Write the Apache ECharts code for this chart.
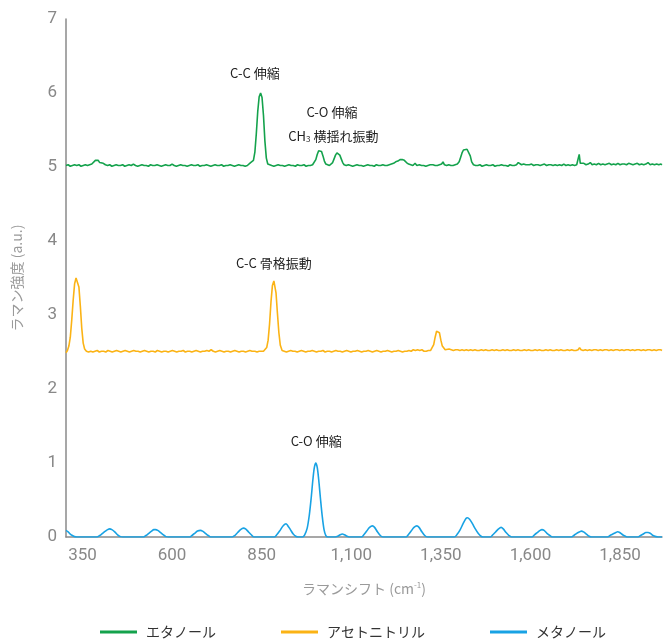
<!DOCTYPE html>
<html>
<head>
<meta charset="utf-8">
<script src="https://cdn.jsdelivr.net/npm/echarts@6/dist/echarts.min.js"></script>
<style>
  html, body { margin: 0; padding: 0; background: #fff; }
  #chart { width: 663px; height: 642px; }
</style>
</head>
<body>
<div id="chart"></div>
<script>
// Raman shift tick labels (cm-1) and intensity ticks
const shiftTicks = [350, 600, 850, 1100, 1350, 1600, 1850];
const intensityTicks = [0, 1, 2, 3, 4, 5, 6, 7];

const seriesNames = ['エタノール', 'アセトニトリル', 'メタノール'];

// Ethanol spectrum, offset to a baseline of 5 [shift, intensity]
const ethanol = [
  [304,5.02],[310,5.03],[316,5.01],[322,5.02],[328,5.03],[334,5.02],[340,5.03],[346,5.01],[352,5.02],[358,5.03],
  [364,5.02],[370,5.03],[376,5.04],[381,5.06],[386,5.09],[390,5.10],[394,5.09],[398,5.06],[403,5.04],[408,5.05],
  [414,5.03],[420,5.02],[426,5.03],[432,5.01],[438,5.02],[444,5.03],[450,5.02],[456,5.02],[462,5.03],[468,5.01],
  [474,5.02],[480,5.03],[486,5.02],[492,5.04],[498,5.02],[504,5.01],[510,5.02],[516,5.03],[522,5.02],[528,5.02],
  [534,5.01],[540,5.03],[546,5.02],[552,5.02],[558,5.03],[564,5.02],[570,5.01],[576,5.02],[582,5.03],[588,5.02],
  [594,5.02],[600,5.04],[606,5.02],[612,5.01],[618,5.02],[624,5.03],[630,5.02],[636,5.02],[642,5.01],[648,5.02],
  [654,5.03],[660,5.02],[666,5.02],[672,5.03],[678,5.01],[684,5.02],[690,5.02],[696,5.03],[702,5.02],[708,5.01],
  [714,5.02],[720,5.03],[726,5.02],[732,5.02],[738,5.03],[744,5.01],[750,5.02],[756,5.02],[762,5.03],[768,5.02],
  [774,5.01],[780,5.02],[786,5.03],[792,5.02],[798,5.02],[804,5.01],[810,5.02],[815,5.03],[819,5.06],[823,5.05],
  [827,5.09],[831,5.20],[835,5.45],[839,5.75],[843,5.95],[847,6.00],[851,5.94],[855,5.70],[859,5.35],[863,5.12],
  [867,5.04],[872,5.02],[878,5.02],[884,5.01],[890,5.02],[896,5.03],[902,5.02],[908,5.02],[914,5.01],[920,5.02],
  [926,5.03],[932,5.02],[938,5.02],[944,5.01],[950,5.03],[956,5.02],[962,5.02],[968,5.03],[974,5.01],[980,5.02],
  [986,5.02],[992,5.03],[997,5.05],[1001,5.10],[1005,5.17],[1009,5.22],[1013,5.23],[1017,5.21],[1021,5.15],[1025,5.08],
  [1029,5.04],[1034,5.03],[1039,5.02],[1044,5.03],[1048,5.06],[1052,5.11],[1056,5.16],[1060,5.19],[1064,5.19],[1068,5.16],
  [1072,5.11],[1076,5.06],[1080,5.03],[1086,5.02],[1092,5.03],[1098,5.02],[1104,5.01],[1110,5.02],[1116,5.03],[1122,5.02],
  [1128,5.02],[1134,5.01],[1140,5.02],[1146,5.03],[1152,5.02],[1158,5.02],[1164,5.01],[1170,5.03],[1176,5.02],[1182,5.02],
  [1188,5.03],[1194,5.02],[1200,5.02],[1206,5.03],[1212,5.04],[1218,5.05],[1224,5.07],[1230,5.08],[1236,5.10],[1242,5.10],
  [1248,5.09],[1254,5.06],[1260,5.04],[1266,5.03],[1272,5.02],[1278,5.05],[1283,5.02],[1290,5.03],[1296,5.02],[1302,5.02],
  [1308,5.01],[1314,5.02],[1320,5.03],[1324,5.05],[1328,5.03],[1334,5.02],[1340,5.02],[1346,5.03],[1352,5.04],[1356,5.07],
  [1360,5.03],[1366,5.02],[1372,5.03],[1378,5.02],[1384,5.02],[1390,5.03],[1396,5.04],[1401,5.07],[1405,5.13],[1409,5.19],
  [1413,5.23],[1418,5.24],[1423,5.24],[1428,5.23],[1432,5.15],[1436,5.07],[1441,5.03],[1447,5.02],[1453,5.02],[1459,5.03],
  [1465,5.01],[1471,5.02],[1477,5.03],[1483,5.02],[1489,5.02],[1495,5.03],[1501,5.01],[1507,5.02],[1513,5.02],[1519,5.03],
  [1525,5.02],[1531,5.02],[1537,5.01],[1543,5.03],[1549,5.02],[1555,5.02],[1561,5.03],[1566,5.06],[1570,5.05],[1575,5.03],
  [1581,5.04],[1587,5.03],[1592,5.05],[1597,5.03],[1603,5.04],[1609,5.02],[1615,5.03],[1621,5.03],[1627,5.02],[1633,5.03],
  [1639,5.04],[1645,5.02],[1651,5.03],[1657,5.03],[1663,5.02],[1669,5.03],[1675,5.02],[1681,5.03],[1687,5.02],[1693,5.04],
  [1699,5.02],[1705,5.03],[1711,5.02],[1717,5.03],[1723,5.02],[1729,5.03],[1733,5.03],[1736,5.17],[1739,5.05],[1743,5.04],
  [1749,5.05],[1755,5.03],[1761,5.04],[1767,5.06],[1772,5.03],[1778,5.04],[1784,5.03],[1790,5.05],[1796,5.03],[1802,5.04],
  [1808,5.03],[1814,5.04],[1820,5.05],[1826,5.03],[1832,5.04],[1838,5.03],[1844,5.05],[1850,5.03],[1856,5.04],[1862,5.04],
  [1868,5.03],[1874,5.05],[1880,5.04],[1886,5.03],[1892,5.04],[1898,5.05],[1904,5.03],[1910,5.04],[1916,5.03],[1922,5.04],
  [1928,5.06],[1934,5.03],[1940,5.04],[1946,5.03],[1952,5.04],[1958,5.03],[1964,5.04],[1967,5.03]
];

// Acetonitrile spectrum, offset to a baseline of 2.5
const acetonitrile = [
  [304,2.49],[308,2.52],[312,2.58],[316,2.70],[320,2.93],[324,3.20],[328,3.42],[332,3.50],[336,3.49],[340,3.38],
  [344,3.12],[348,2.82],[352,2.62],[356,2.54],[361,2.51],[367,2.50],[373,2.51],[379,2.50],[385,2.51],[391,2.52],
  [397,2.50],[403,2.51],[409,2.51],[415,2.50],[421,2.52],[427,2.51],[433,2.50],[439,2.51],[445,2.52],[451,2.51],
  [457,2.50],[463,2.51],[469,2.52],[475,2.51],[481,2.50],[487,2.51],[493,2.52],[499,2.51],[505,2.51],[511,2.50],
  [517,2.51],[523,2.52],[529,2.51],[535,2.50],[541,2.51],[547,2.51],[553,2.50],[559,2.52],[565,2.51],[571,2.50],
  [577,2.51],[583,2.51],[589,2.50],[595,2.51],[601,2.52],[607,2.51],[613,2.50],[619,2.51],[625,2.51],[631,2.52],
  [637,2.50],[643,2.51],[649,2.51],[655,2.50],[661,2.51],[667,2.52],[673,2.51],[679,2.50],[685,2.51],[691,2.51],
  [697,2.52],[703,2.51],[709,2.53],[715,2.51],[721,2.50],[727,2.51],[733,2.52],[739,2.51],[745,2.50],[751,2.51],
  [757,2.51],[763,2.50],[769,2.51],[775,2.52],[781,2.51],[787,2.50],[793,2.51],[799,2.51],[805,2.50],[811,2.51],
  [817,2.52],[823,2.51],[827,2.53],[831,2.51],[837,2.50],[843,2.51],[849,2.51],[855,2.51],[860,2.52],[864,2.56],
  [868,2.66],[872,2.88],[876,3.18],[880,3.40],[884,3.46],[887,3.44],[890,3.30],[894,3.02],[898,2.76],[902,2.59],
  [907,2.52],[913,2.51],[919,2.50],[925,2.51],[931,2.52],[937,2.51],[943,2.51],[949,2.50],[955,2.51],[961,2.52],
  [967,2.51],[973,2.50],[979,2.51],[985,2.51],[991,2.52],[997,2.51],[1003,2.50],[1009,2.51],[1015,2.51],[1021,2.52],
  [1027,2.50],[1033,2.51],[1039,2.51],[1045,2.50],[1051,2.51],[1057,2.52],[1063,2.51],[1069,2.51],[1075,2.50],[1081,2.51],
  [1087,2.52],[1093,2.51],[1099,2.50],[1105,2.51],[1111,2.51],[1117,2.52],[1123,2.51],[1129,2.50],[1135,2.51],[1141,2.51],
  [1147,2.52],[1153,2.51],[1159,2.50],[1165,2.51],[1171,2.52],[1177,2.51],[1183,2.50],[1189,2.51],[1195,2.51],[1201,2.52],
  [1207,2.51],[1213,2.50],[1219,2.51],[1225,2.51],[1231,2.52],[1237,2.51],[1243,2.50],[1249,2.51],[1255,2.51],[1261,2.52],
  [1267,2.51],[1273,2.53],[1279,2.52],[1285,2.53],[1291,2.52],[1297,2.53],[1303,2.51],[1309,2.51],[1315,2.52],[1321,2.52],
  [1326,2.54],[1330,2.60],[1334,2.70],[1338,2.78],[1342,2.80],[1346,2.76],[1350,2.66],[1354,2.58],[1358,2.56],[1362,2.53],
  [1367,2.52],[1373,2.54],[1379,2.53],[1385,2.52],[1391,2.53],[1397,2.53],[1403,2.52],[1409,2.53],[1415,2.52],[1421,2.53],
  [1427,2.52],[1433,2.53],[1439,2.52],[1445,2.53],[1451,2.52],[1457,2.52],[1463,2.53],[1469,2.52],[1475,2.53],[1481,2.52],
  [1487,2.52],[1493,2.53],[1499,2.52],[1505,2.53],[1511,2.52],[1517,2.52],[1523,2.53],[1529,2.52],[1535,2.53],[1541,2.52],
  [1547,2.52],[1553,2.53],[1559,2.52],[1565,2.53],[1571,2.52],[1577,2.52],[1583,2.53],[1589,2.52],[1595,2.53],[1601,2.52],
  [1607,2.52],[1613,2.53],[1619,2.52],[1625,2.53],[1631,2.52],[1637,2.52],[1643,2.53],[1649,2.52],[1655,2.53],[1661,2.52],
  [1667,2.52],[1673,2.53],[1679,2.52],[1685,2.53],[1691,2.52],[1697,2.52],[1703,2.53],[1709,2.52],[1715,2.53],[1721,2.52],
  [1727,2.52],[1733,2.53],[1737,2.56],[1741,2.53],[1747,2.52],[1753,2.53],[1759,2.52],[1765,2.53],[1771,2.52],[1777,2.53],
  [1783,2.53],[1789,2.52],[1795,2.53],[1801,2.52],[1807,2.53],[1813,2.53],[1819,2.52],[1825,2.53],[1831,2.52],[1837,2.53],
  [1843,2.53],[1849,2.52],[1855,2.53],[1861,2.52],[1867,2.53],[1873,2.53],[1879,2.52],[1885,2.53],[1891,2.52],[1897,2.53],
  [1903,2.53],[1909,2.52],[1915,2.53],[1921,2.52],[1927,2.53],[1933,2.53],[1939,2.52],[1945,2.53],[1951,2.52],[1957,2.53],
  [1963,2.53],[1967,2.52]
];

// Methanol spectrum, baseline 0
const methanol = [
  [304,0.09],[310,0.07],[316,0.04],[322,0.02],[328,0.005],[334,0],[390,0],[398,0.02],[406,0.05],[414,0.08],
  [420,0.10],[426,0.11],[432,0.10],[440,0.07],[448,0.03],[456,0.005],[462,0],[520,0],[527,0.02],[535,0.05],
  [543,0.08],[549,0.10],[554,0.10],[560,0.09],[568,0.06],[576,0.03],[583,0.005],[590,0],[650,0],[655,0.02],
  [663,0.05],[671,0.08],[679,0.09],[685,0.08],[693,0.05],[701,0.02],[708,0],[768,0],[775,0.02],[783,0.06],
  [791,0.10],[799,0.12],[805,0.11],[813,0.07],[821,0.03],[828,0],[885,0],[892,0.03],[900,0.08],[908,0.14],
  [914,0.17],[918,0.18],[922,0.16],[930,0.10],[938,0.04],[945,0.01],[952,0],[964,0],[970,0.03],[977,0.12],
  [983,0.30],[988,0.52],[993,0.78],[997,0.94],[1001,1.00],[1005,0.94],[1009,0.78],[1014,0.52],[1019,0.28],[1024,0.10],
  [1029,0.02],[1035,0],[1055,0],[1062,0.01],[1069,0.03],[1075,0.04],[1081,0.03],[1088,0.01],[1094,0],[1128,0],
  [1135,0.03],[1143,0.08],[1151,0.13],[1159,0.15],[1165,0.13],[1173,0.07],[1181,0.02],[1188,0],[1252,0],[1259,0.03],
  [1267,0.08],[1275,0.13],[1283,0.15],[1289,0.13],[1297,0.07],[1305,0.02],[1312,0],[1388,0],[1396,0.04],[1404,0.10],
  [1412,0.18],[1420,0.25],[1424,0.26],[1430,0.24],[1438,0.18],[1446,0.11],[1454,0.05],[1462,0.01],[1468,0],[1488,0],
  [1495,0.03],[1503,0.07],[1511,0.11],[1518,0.13],[1524,0.11],[1532,0.06],[1540,0.02],[1547,0],[1604,0],[1611,0.03],
  [1619,0.06],[1627,0.09],[1632,0.10],[1638,0.09],[1646,0.05],[1654,0.02],[1661,0],[1714,0],[1721,0.02],[1729,0.05],
  [1737,0.07],[1742,0.08],[1748,0.07],[1756,0.04],[1764,0.01],[1770,0],[1815,0],[1822,0.02],[1830,0.04],[1838,0.06],
  [1843,0.07],[1849,0.06],[1857,0.03],[1865,0.01],[1871,0],[1900,0],[1907,0.02],[1915,0.04],[1922,0.06],[1928,0.06],
  [1934,0.05],[1942,0.02],[1950,0.005],[1956,0],[1967,0]
];

// Band assignments: [shift, intensity, text]
const ethanolNotes = [
  [831, 6.27, 'C-C 伸縮'],
  [1046, 5.74, 'C-O 伸縮'],
  [1050, 5.42, '{t|CH}{s|3}{t| 横揺れ振動}']
];
const acetonitrileNotes = [
  [884, 3.70, 'C-C 骨格振動']
];
const methanolNotes = [
  [1002, 1.29, 'C-O 伸縮']
];

const colors = ['#14a24c', '#fbb315', '#18a2e4'];
const fontFamily = 'Roboto, "Noto Sans CJK JP", sans-serif';
const cjkFont = '"Noto Sans CJK JP", Roboto, sans-serif';

function notes(list) {
  return {
    symbol: 'circle',
    symbolSize: 0,
    itemStyle: { color: 'transparent' },
    label: {
      show: true,
      position: 'inside',
      color: '#222',
      fontSize: 13,
      fontFamily: cjkFont,
      formatter: p => p.name,
      rich: {
        t: { fontSize: 13, color: '#222', fontFamily: cjkFont },
        s: { fontSize: 8, color: '#222', fontFamily: cjkFont, padding: [7, 0, 0, 0] }
      }
    },
    data: list.map(n => ({ name: n[2], coord: [n[0], n[1]] }))
  };
}

function line(name, data, color, noteList, smooth) {
  return {
    name: name,
    type: 'line',
    data: data,
    showSymbol: false,
    smooth: smooth,
    lineStyle: { color: color, width: 1.6 },
    itemStyle: { color: color },
    markPoint: notes(noteList),
    z: 2
  };
}

const chart = echarts.init(document.getElementById('chart'));
chart.setOption({
  animation: false,
  textStyle: { fontFamily: fontFamily },
  grid: { left: 66, right: 1, top: 19, bottom: 105, containLabel: false },
  xAxis: {
    type: 'value',
    min: 304,
    max: 1967,
    name: '{t|ラマンシフト (cm}{s|-1}{t|)}',
    nameLocation: 'middle',
    nameGap: 44,
    nameTextStyle: {
      rich: {
        t: { fontSize: 14, color: '#9a9a9a', fontFamily: cjkFont },
        s: { fontSize: 8, color: '#9a9a9a', fontFamily: cjkFont, padding: [0, 0, 7, 0] }
      }
    },
    axisLine: { show: true, lineStyle: { color: '#8a8a8a', width: 1.5 } },
    axisTick: { show: false },
    splitLine: { show: false },
    axisLabel: {
      customValues: shiftTicks,
      color: '#888',
      fontSize: 17,
      margin: 10,
      fontFamily: fontFamily,
      formatter: v => Number(v).toLocaleString('en-US')
    }
  },
  yAxis: {
    type: 'value',
    min: intensityTicks[0],
    max: intensityTicks[intensityTicks.length - 1],
    interval: 1,
    name: 'ラマン強度 (a.u.)',
    nameLocation: 'middle',
    nameGap: 42,
    nameTextStyle: { fontSize: 14, color: '#9a9a9a', fontFamily: cjkFont },
    axisLine: { show: true, lineStyle: { color: '#8a8a8a', width: 1.5 } },
    axisTick: { show: false },
    splitLine: { show: false },
    axisLabel: { color: '#888', fontSize: 17, margin: 9, fontFamily: fontFamily }
  },
  legend: {
    left: 95,
    top: 620,
    itemWidth: 37,
    itemHeight: 3,
    itemGap: 65,
    icon: 'rect',
    textStyle: { fontSize: 14, color: '#333', fontFamily: cjkFont, padding: [0, 0, 0, 4] },
    data: seriesNames
  },
  series: [
    line(seriesNames[0], ethanol, colors[0], ethanolNotes, false),
    line(seriesNames[1], acetonitrile, colors[1], acetonitrileNotes, false),
    line(seriesNames[2], methanol, colors[2], methanolNotes, 0.3)
  ]
});
</script>
</body>
</html>
